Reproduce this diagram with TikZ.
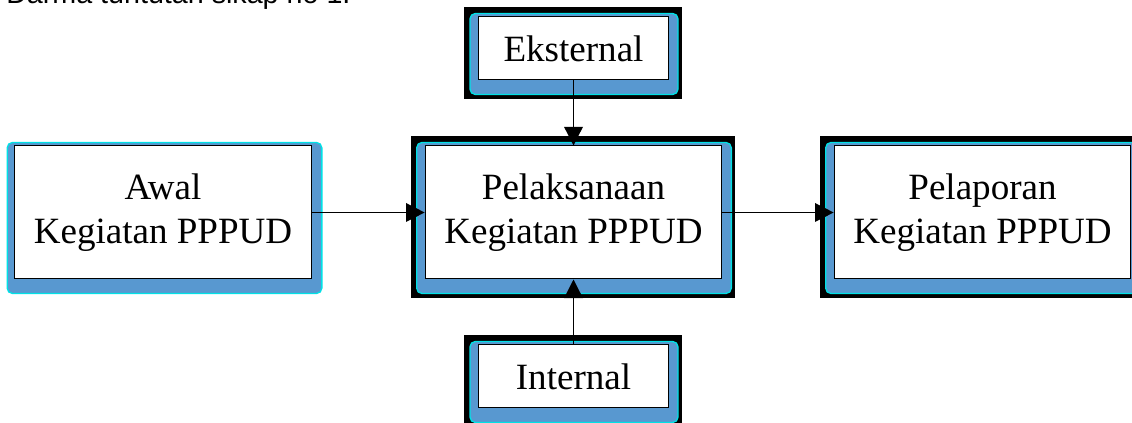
\documentclass[tikz,border=0pt]{standalone}
\usepackage{fontspec}
\setmainfont{Liberation Serif}
\newfontfamily\headfont{Liberation Sans}
\usetikzlibrary{calc}
\usetikzlibrary{backgrounds}
\usetikzlibrary{arrows.meta}

\definecolor{boxblue}{RGB}{88,152,208}
\definecolor{rimcyan}{RGB}{0,225,230}

\begin{document}
\begin{tikzpicture}[x=0.75pt, y=-0.75pt,
    stage/.style={draw=black, line width=0.75pt, fill=white, inner sep=0pt, align=center,
        minimum width=222.5pt, minimum height=99.75pt,
        font=\fontsize{27.8}{33.5}\selectfont},
    source/.style={stage, minimum width=142.5pt, minimum height=47.25pt},
    flow/.style={-{Triangle[length=14pt, width=14pt]}, line width=1pt},
    bluepad/.style={fill=boxblue, draw=rimcyan, line width=1pt, rounded corners=4pt},
    blackpad/.style={fill=black}]

            % Page frame
            \useasboundingbox (0,0) rectangle (1132,423);
            \clip (0,0) rectangle (1132,423);

            % Line of text cut off at the top
            \node[anchor=base west, inner sep=0pt, font=\headfont\fontsize{21.5}{25}\selectfont] (note) at (6,4) {Darma tuntutan sikap no 1.};

            % Stages
            \node[stage] (awal) at (163,212.5) {Awal\\Kegiatan PPPUD};
            \node[stage] (pelaksanaan) at (573.5,212.5) {Pelaksanaan\\Kegiatan PPPUD};
            \node[stage] (pelaporan) at (982.5,212.5) {Pelaporan\\Kegiatan PPPUD};

            % Inputs
            \node[source] (eksternal) at (573.5,48.5) {Eksternal};
            \node[source] (internal) at (573.5,376.5) {Internal};

            % Frames behind the boxes
            \begin{scope}[on background layer]
                \clip (0,0) rectangle (1132,423);
                \foreach \n in {pelaksanaan,pelaporan,eksternal,internal} {
                    \fill[blackpad] ($(\n.north west)+(-14,-9)$) rectangle ($(\n.south east)+(13,19)$);
                }
                \foreach \n in {pelaksanaan,pelaporan,eksternal,internal} {
                    \draw[bluepad] ($(\n.north west)+(-8,-3)$) rectangle ($(\n.south east)+(9,14)$);
                }
                \draw[bluepad] ($(awal.north west)+(-7,-3)$) rectangle ($(awal.south east)+(10,14)$);
            \end{scope}

            % Arrows
            \draw[flow] (awal.east) -- (pelaksanaan.west);
            \draw[flow] (pelaksanaan.east) -- (pelaporan.west);
            \draw[flow] (eksternal.south) -- (pelaksanaan.north);
            \draw[flow] (internal.north) -- (pelaksanaan.south);
        \end{tikzpicture}
\end{document}
